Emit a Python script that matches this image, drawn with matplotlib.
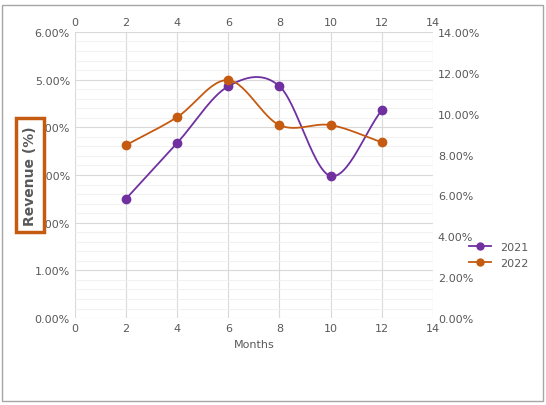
import numpy as np
import matplotlib.pyplot as plt
from matplotlib.ticker import FuncFormatter, MultipleLocator

months = [2, 4, 6, 8, 10, 12]
rev_2021 = [2.50, 3.67, 4.86, 4.86, 2.98, 4.36]   # left axis, %
rev_2022 = [8.46, 9.83, 11.64, 9.44, 9.44, 8.60]  # right axis, %

purple = '#7030A0'
orange = '#C55A11'


def smooth(x, y, n=30):
    # Catmull-Rom curve through the points, like Excel's smoothed line
    x = np.asarray(x, float); y = np.asarray(y, float)
    px = np.r_[2*x[0]-x[1], x, 2*x[-1]-x[-2]]
    py = np.r_[2*y[0]-y[1], y, 2*y[-1]-y[-2]]
    xs, ys = [], []
    t = np.linspace(0, 1, n)
    for i in range(1, len(px)-2):
        for p, out in ((px, xs), (py, ys)):
            p0, p1, p2, p3 = p[i-1:i+3]
            out.extend(0.5*(2*p1 + (-p0+p2)*t + (2*p0-5*p1+4*p2-p3)*t**2
                            + (-p0+3*p1-3*p2+p3)*t**3))
    return xs, ys


fig = plt.figure(figsize=(5.46, 4.06), dpi=100)
ax = fig.add_axes([0.137, 0.214, 0.656, 0.705])
ax2 = ax.twinx()
ax3 = ax.twiny()

ax.set_xlim(0, 14); ax.set_ylim(0, 6)
ax2.set_ylim(0, 14); ax3.set_xlim(0, 14)
ax.xaxis.set_major_locator(MultipleLocator(2))
ax3.xaxis.set_major_locator(MultipleLocator(2))
ax.yaxis.set_major_locator(MultipleLocator(1))
ax.yaxis.set_minor_locator(MultipleLocator(0.2))
ax2.yaxis.set_major_locator(MultipleLocator(2))
ax.yaxis.set_major_formatter(FuncFormatter(lambda v, p: f'{v:.2f}%'))
ax2.yaxis.set_major_formatter(FuncFormatter(lambda v, p: f'{v:.2f}%'))

ax.grid(axis='x', color='#D9D9D9', lw=0.8)
ax.grid(axis='y', which='major', color='#D9D9D9', lw=0.8)
ax.grid(axis='y', which='minor', color='#EFEFEF', lw=0.6)
ax.set_axisbelow(True)

for a in (ax, ax2, ax3):
    for s in a.spines.values():
        s.set_visible(False)
    a.tick_params(which='both', length=0, labelsize=8, colors='#595959')

sx, sy = smooth(months, rev_2021)
ax.plot(sx, sy, color=purple, lw=1.3)
ax.plot(months, rev_2021, 'o', color=purple, ms=6)
sx, sy = smooth(months, rev_2022)
ax2.plot(sx, sy, color=orange, lw=1.3)
ax2.plot(months, rev_2022, 'o', color=orange, ms=6)

ax.set_xlabel('Months', fontsize=8, color='#595959')
ax.set_ylabel('Revenue (%)', fontsize=10, color='#595959', fontweight='bold',
              labelpad=-2,
              bbox=dict(boxstyle='square,pad=0.5', fc='white', ec=orange, lw=2.5))

leg = [plt.Line2D([], [], color=purple, marker='o', ms=5, lw=1.3),
       plt.Line2D([], [], color=orange, marker='o', ms=5, lw=1.3)]
fig.legend(leg, ['2021', '2022'], loc='center left', bbox_to_anchor=(0.84, 0.37),
           frameon=False, fontsize=8, labelcolor='#595959', handlelength=2)

fig.patches.append(plt.Rectangle((0.004, 0.01), 0.99, 0.975, transform=fig.transFigure,
                                 fill=False, ec='#A6A6A6', lw=1))
fig.savefig('out.png')
